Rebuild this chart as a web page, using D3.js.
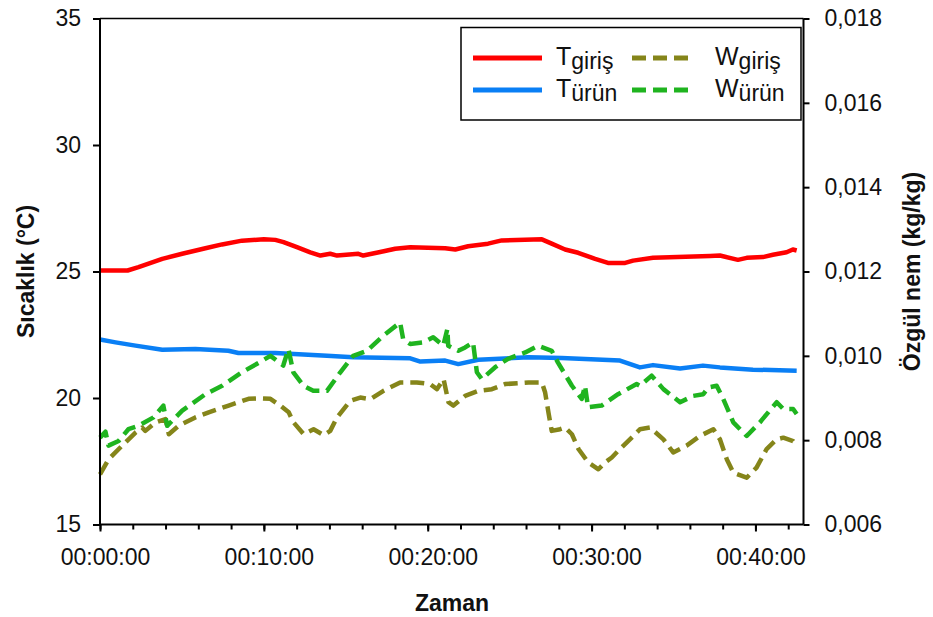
<!DOCTYPE html>
<html>
<head>
<meta charset="utf-8">
<script src="https://cdn.jsdelivr.net/npm/d3@7"></script>
<style>
  body { margin: 0; background: #fff; }
  svg { display: block; font-family: Arial, "Liberation Sans", sans-serif; }
</style>
</head>
<body>
<svg id="chart" width="933" height="617"></svg>
<script>
// Elapsed time in seconds, paired with the measured value.
const tGiris = [
  [0,25.04],[101,25.04],[141,25.17],[228,25.50],[301,25.70],[386,25.92],[447,26.07],[520,26.22],
  [600,26.27],[642,26.25],[672,26.16],[721,25.96],[770,25.76],[807,25.63],[843,25.70],[868,25.63],
  [946,25.70],[964,25.63],[1026,25.77],[1081,25.90],[1136,25.96],[1264,25.92],[1301,25.87],[1348,26.00],
  [1421,26.10],[1471,26.23],[1618,26.27],[1654,26.10],[1703,25.87],[1751,25.74],[1813,25.50],[1860,25.34],
  [1923,25.34],[1952,25.43],[2025,25.54],[2234,25.61],[2270,25.63],[2336,25.46],[2368,25.54],[2427,25.57],
  [2464,25.66],[2514,25.76],[2537,25.87],[2551,25.83]
];

const tUrun = [
  [0,22.31],[57,22.20],[130,22.07],[228,21.91],[349,21.94],[470,21.87],[507,21.78],[642,21.78],
  [831,21.67],[927,21.61],[1136,21.57],[1173,21.44],[1264,21.48],[1312,21.34],[1385,21.51],[1568,21.61],
  [1691,21.58],[1904,21.48],[1977,21.21],[2025,21.30],[2124,21.17],[2208,21.28],[2270,21.21],[2391,21.12],
  [2551,21.08]
];

const wGiris = [
  [0,0.00719],[32,0.00755],[81,0.00787],[130,0.00818],[154,0.00830],[166,0.00822],[203,0.00842],[240,0.00850],
  [252,0.00814],[288,0.00834],[349,0.00854],[398,0.00866],[471,0.00882],[544,0.00898],[593,0.00899],[624,0.00898],
  [660,0.00882],[691,0.00866],[709,0.00842],[746,0.00814],[782,0.00826],[819,0.00812],[843,0.00822],[868,0.00854],
  [916,0.00893],[953,0.00901],[990,0.00897],[1038,0.00917],[1099,0.00937],[1160,0.00937],[1209,0.00933],[1234,0.00921],
  [1258,0.00945],[1276,0.00890],[1294,0.00882],[1337,0.00905],[1386,0.00917],[1435,0.00921],[1483,0.00933],[1569,0.00937],
  [1618,0.00937],[1630,0.00913],[1642,0.00866],[1654,0.00822],[1685,0.00826],[1703,0.00830],[1728,0.00814],[1752,0.00779],
  [1788,0.00747],[1825,0.00731],[1849,0.00747],[1874,0.00759],[1904,0.00779],[1953,0.00810],[1977,0.00826],[2014,0.00830],
  [2063,0.00802],[2099,0.00771],[2148,0.00787],[2197,0.00810],[2246,0.00826],[2270,0.00802],[2295,0.00755],[2319,0.00723],
  [2368,0.00711],[2404,0.00735],[2441,0.00779],[2478,0.00802],[2502,0.00806],[2538,0.00798],[2551,0.00787]
];

const wUrun = [
  [0,0.00806],[20,0.00820],[31,0.00787],[68,0.00798],[104,0.00826],[141,0.00834],[196,0.00854],[232,0.00882],
  [246,0.00834],[301,0.00870],[386,0.00909],[447,0.00929],[520,0.00961],[593,0.00988],[624,0.01000],[671,0.00977],
  [690,0.01016],[708,0.00961],[745,0.00929],[781,0.00917],[831,0.00917],[880,0.00961],[927,0.01000],[978,0.01012],
  [1038,0.01048],[1099,0.01079],[1110,0.01040],[1136,0.01028],[1185,0.01032],[1220,0.01044],[1257,0.01024],[1272,0.01064],
  [1275,0.01024],[1312,0.01012],[1337,0.01020],[1366,0.01032],[1380,0.00961],[1398,0.00945],[1447,0.00973],[1494,0.00993],
  [1557,0.01008],[1604,0.01024],[1654,0.01012],[1677,0.00984],[1728,0.00929],[1764,0.00898],[1776,0.00929],[1787,0.00878],
  [1837,0.00882],[1897,0.00909],[1965,0.00933],[1977,0.00929],[2020,0.00953],[2063,0.00921],[2124,0.00890],[2172,0.00905],
  [2209,0.00909],[2227,0.00925],[2258,0.00929],[2282,0.00898],[2319,0.00842],[2368,0.00810],[2416,0.00842],[2478,0.00890],
  [2502,0.00874],[2538,0.00874],[2551,0.00862]
];

// Axis ticks
const timeMajorTicks = [0, 600, 1200, 1800, 2400];
const timeMinorTicks = d3.range(0, 2576, 120);
const tempTicks = [15, 20, 25, 30, 35];
const humTicks = [0.006, 0.008, 0.010, 0.012, 0.014, 0.016, 0.018];

// Axis titles and legend entries
const xTitle = "Zaman";
const yLeftTitle = "Sıcaklık (°C)";
const yRightTitle = "Özgül nem (kg/kg)";
const seriesInfo = [
  { data: tGiris, base: "T", sub: "giriş", axis: "T", color: "#ff0000", dash: null },
  { data: tUrun,  base: "T", sub: "ürün",  axis: "T", color: "#0a7ff5", dash: null },
  { data: wGiris, base: "W", sub: "giriş", axis: "W", color: "#85851a", dash: "14,7" },
  { data: wUrun,  base: "W", sub: "ürün",  axis: "W", color: "#1fb41f", dash: "14,7" }
];

const svg = d3.select("#chart");
const plot = { left: 100, right: 803.5, top: 18.5, bottom: 524.5 };

const x = d3.scaleLinear().domain([0, 2576]).range([plot.left, plot.right]);
const yT = d3.scaleLinear().domain([15, 35]).range([plot.bottom, plot.top]);
const yW = d3.scaleLinear().domain([0.006, 0.018]).range([plot.bottom, plot.top]);

const pad2 = n => String(n).padStart(2, "0");
const fmtTime = s => `${pad2(Math.floor(s / 3600))}:${pad2(Math.floor(s / 60) % 60)}:${pad2(s % 60)}`;
const fmtHum = d => d3.format(".3f")(d).replace(".", ",");

// Data lines
seriesInfo.forEach(s => {
  const yScale = s.axis === "T" ? yT : yW;
  const line = d3.line().x(d => x(d[0])).y(d => yScale(d[1]));
  svg.append("path")
    .datum(s.data)
    .attr("d", line)
    .attr("fill", "none")
    .attr("stroke", s.color)
    .attr("stroke-width", 4.5)
    .attr("stroke-linejoin", "round")
    .attr("stroke-dasharray", s.dash);
});

// Frame
const frame = svg.append("g").attr("stroke", "#000").attr("fill", "none");
frame.append("line").attr("x1", plot.left).attr("x2", plot.left).attr("y1", plot.top).attr("y2", plot.bottom).attr("stroke-width", 2);
frame.append("line").attr("x1", plot.right).attr("x2", plot.right).attr("y1", plot.top).attr("y2", plot.bottom).attr("stroke-width", 2);
frame.append("line").attr("x1", plot.left).attr("x2", plot.right).attr("y1", plot.bottom).attr("y2", plot.bottom).attr("stroke-width", 2);
frame.append("line").attr("x1", plot.left).attr("x2", plot.right).attr("y1", plot.top).attr("y2", plot.top).attr("stroke-width", 1.5);

function styleAxis(g) {
  g.select(".domain").remove();
  g.selectAll(".tick line").attr("stroke", "#000").attr("stroke-width", 2);
  g.selectAll(".tick text").attr("fill", "#111").style("font-size", "23px");
}

// Left temperature axis
svg.append("g")
  .attr("transform", `translate(${plot.left},0)`)
  .call(d3.axisLeft(yT).tickValues(tempTicks).tickSize(7).tickPadding(12).tickSizeOuter(0))
  .call(styleAxis);

// Right humidity axis
svg.append("g")
  .attr("transform", `translate(${plot.right},0)`)
  .call(d3.axisRight(yW).tickValues(humTicks).tickSize(6).tickPadding(15).tickFormat(fmtHum).tickSizeOuter(0))
  .call(styleAxis);

// Bottom time axis: minor ticks then labelled major ticks
svg.append("g")
  .attr("transform", `translate(0,${plot.bottom})`)
  .call(d3.axisBottom(x).tickValues(timeMinorTicks).tickSize(5).tickFormat("").tickSizeOuter(0))
  .call(styleAxis);
svg.append("g")
  .attr("transform", `translate(0,${plot.bottom})`)
  .call(d3.axisBottom(x).tickValues(timeMajorTicks).tickSize(7).tickPadding(17).tickFormat(fmtTime).tickSizeOuter(0))
  .call(styleAxis)
  .call(g => g.selectAll(".tick text").attr("x", 5));

// Axis titles
svg.append("text")
  .attr("x", 452).attr("y", 611)
  .attr("text-anchor", "middle")
  .attr("font-weight", "bold").attr("font-size", 23).attr("fill", "#111")
  .text(xTitle);
svg.append("text")
  .attr("transform", `translate(34,${(plot.top + plot.bottom) / 2}) rotate(-90)`)
  .attr("text-anchor", "middle")
  .attr("font-weight", "bold").attr("font-size", 23).attr("fill", "#111")
  .text(yLeftTitle);
svg.append("text")
  .attr("transform", `translate(920,${(plot.top + plot.bottom) / 2}) rotate(-90)`)
  .attr("text-anchor", "middle")
  .attr("font-weight", "bold").attr("font-size", 23).attr("fill", "#111")
  .text(yRightTitle);

// Legend
const legend = svg.append("g");
legend.append("rect")
  .attr("x", 461).attr("y", 27.5).attr("width", 340).attr("height", 92.5)
  .attr("fill", "#fff").attr("stroke", "#000").attr("stroke-width", 1.5);

const legendCols = [
  { lineX: 473, labelX: 556 },
  { lineX: 632, labelX: 715 }
];
const legendRows = [58, 90];
seriesInfo.forEach((s, i) => {
  const col = legendCols[Math.floor(i / 2)];
  const ly = legendRows[i % 2];
  legend.append("line")
    .attr("x1", col.lineX).attr("x2", col.lineX + (s.dash ? 56 : 69))
    .attr("y1", ly).attr("y2", ly)
    .attr("stroke", s.color).attr("stroke-width", 5)
    .attr("stroke-dasharray", s.dash);
  const t = legend.append("text")
    .attr("x", col.labelX).attr("y", ly + 6.5)
    .attr("fill", "#111").attr("font-size", 25);
  t.append("tspan").text(s.base);
  t.append("tspan").attr("dy", 4).attr("font-size", 23).text(s.sub);
});
</script>
</body>
</html>
